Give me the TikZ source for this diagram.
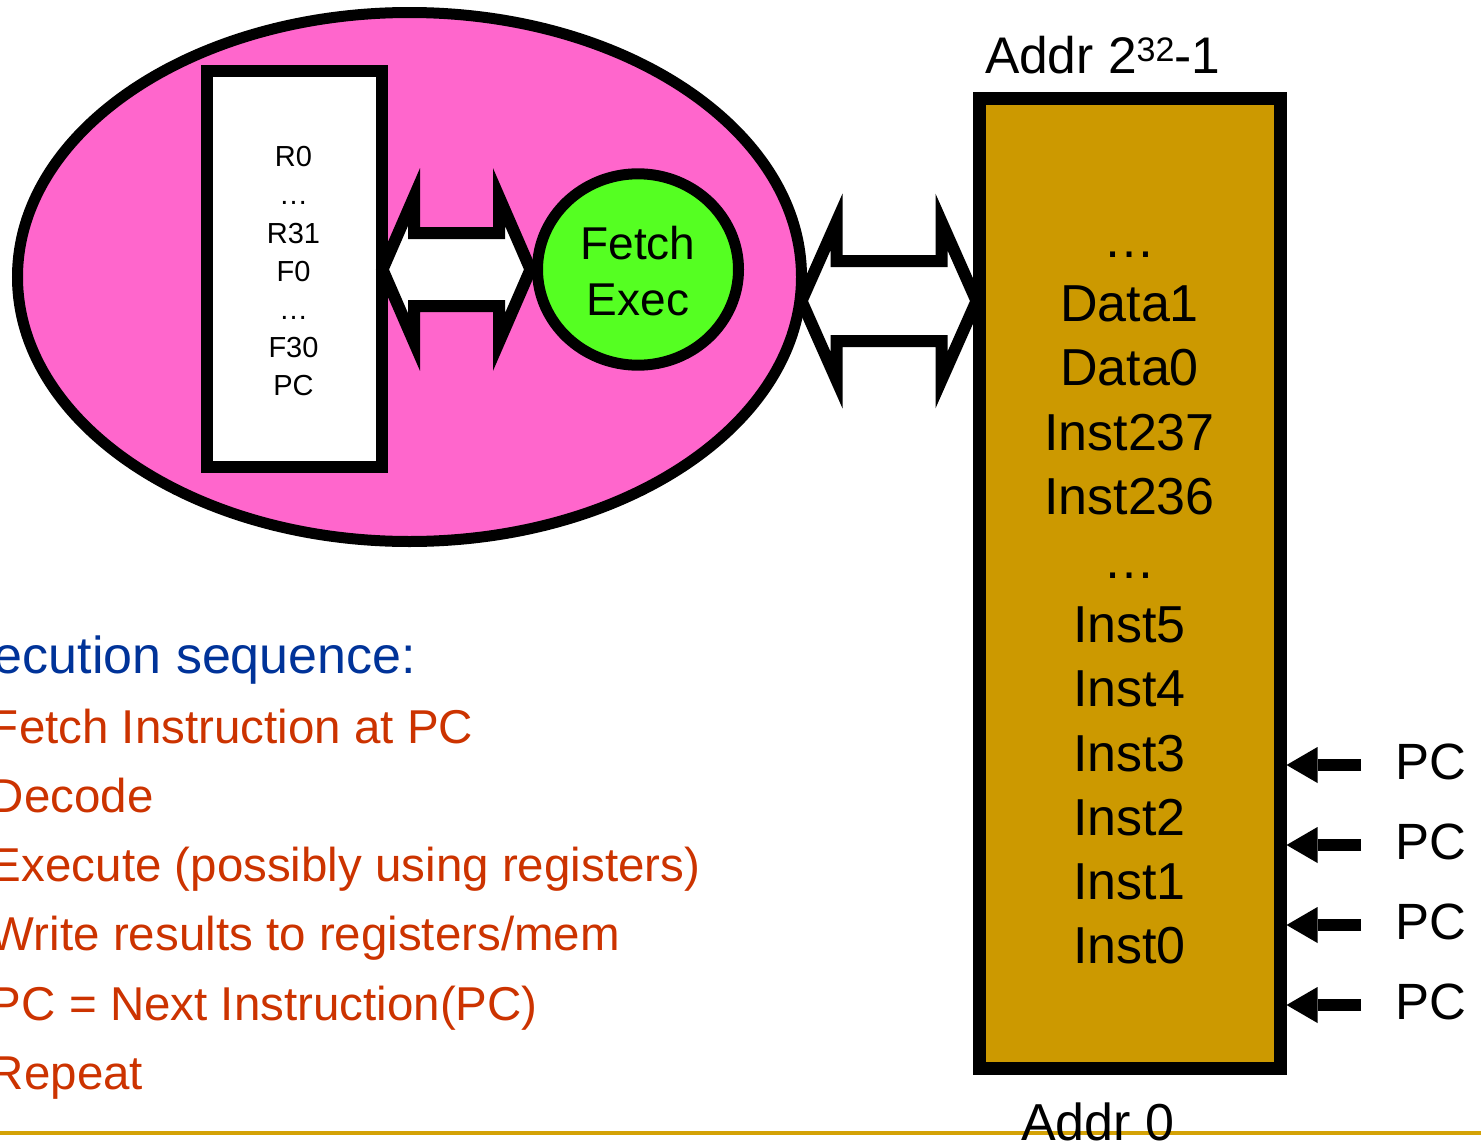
\documentclass[tikz,border=0pt]{standalone}
\usepackage{fontspec}
\setmainfont{Liberation Sans}
\usetikzlibrary{calc,arrows.meta,shapes.geometric}

\definecolor{cpupink}{RGB}{255,102,204}
\definecolor{alugreen}{RGB}{85,255,34}
\definecolor{memgold}{RGB}{204,153,0}
\definecolor{rulegold}{RGB}{212,162,6}
\definecolor{headblue}{RGB}{0,51,153}
\definecolor{itemred}{RGB}{204,51,0}

% hollow double-headed block arrow between two tip points
% #1 left tip, #2 right tip, #3 head length, #4 head half-height, #5 shaft half-height
\newcommand\busshape[5]{%
  \draw[busarrow] (#1) -- ($(#1)+(#3,-#4)$) -- ($(#1)+(#3,-#5)$)
    -- ($(#2)+(-#3,-#5)$) -- ($(#2)+(-#3,-#4)$) -- (#2)
    -- ($(#2)+(-#3,#4)$) -- ($(#2)+(-#3,#5)$)
    -- ($(#1)+(#3,#5)$) -- ($(#1)+(#3,#4)$) -- cycle;}

\begin{document}
\begin{tikzpicture}[x=1pt,y=-1pt,
  every node/.style={inner sep=0pt, outer sep=0pt},
  regtext/.style={anchor=base, font=\fontsize{29}{35}\selectfont},
  memtext/.style={anchor=base, font=\fontsize{52}{62}\selectfont},
  pclabel/.style={anchor=base west, font=\fontsize{51}{61}\selectfont},
  seqitem/.style={anchor=base west, text=itemred, font=\fontsize{47.5}{57}\selectfont},
  busarrow/.style={draw=black, fill=white, line width=12pt, line join=miter, miter limit=10},
  pcarrow/.style={line width=12pt, -{Triangle[length=31pt,width=36pt,line width=0pt]}},
]
\useasboundingbox (0,0) rectangle (1481,1143);
\clip (0,0) rectangle (1481,1143);

% processor
\node[draw, ellipse, line width=11pt, fill=cpupink,
      minimum width=784pt, minimum height=529pt] (proc) at (409.5,277) {};

% register file
\node[draw, line width=12pt, fill=white,
      minimum width=175.5pt, minimum height=396pt] (regs) at (294.25,269) {};
\foreach \t [count=\k from 0] in {R0,…,R31,F0,…,F30,PC}
  \node[regtext] (reg\k) at (293.5,{166.7+38.2*\k}) {\t};

% fetch / execute unit
\node[draw, ellipse, line width=11pt, fill=alugreen,
      minimum width=201pt, minimum height=191.4pt] (alu) at (638,269.5) {};
\node[anchor=base, font=\fontsize{46}{56}\selectfont] (fetchlbl) at (638,259) {Fetch};
\node[anchor=base, font=\fontsize{46}{56}\selectfont] (execlbl) at (638,315) {Exec};

% memory
\node[draw, line width=13pt, fill=memgold,
      minimum width=301pt, minimum height=970pt] (mem) at (1129.5,583) {};
\foreach \t [count=\k from 0] in {…,Data1,Data0,Inst237,Inst236,…,Inst5,Inst4,Inst3,Inst2,Inst1,Inst0}
  \node[memtext] (cell\k) at (1129.5,{257.5+64.2*\k}) {\t};

\node[anchor=base west, font=\fontsize{51.5}{61}\selectfont] (addrtop) at (985,73)
  {Addr 2\raisebox{12pt}{\fontsize{34}{40}\selectfont 32}-1};

% register file <-> fetch/exec
\coordinate (busA1) at ($(regs.east)+(0.5,0.5)$);
\coordinate (busA2) at ($(alu.west)+(-7,0)$);
\busshape{busA1}{busA2}{31.5}{72.5}{36.5}

% processor <-> memory
\coordinate (busline) at (0,301);
\coordinate (busB1) at (proc.east |- busline);
\coordinate (busB0) at (mem.west |- busline);
\coordinate (busB2) at ($(busB0)+(-2.5,0)$);
\busshape{busB1}{busB2}{35}{79}{40}

% program counter positions
\foreach \k in {0,...,3} {
  \node[pclabel] (pc\k) at (1395,{779+80*\k}) {PC};
  \coordinate (pcs\k) at ($(pc\k.base west)+(-34,-14)$);
  \coordinate (pce\k) at (pcs\k -| mem.east);
  \draw[pcarrow] (pcs\k) -- ($(pce\k)+(6.5,0)$);
}

% execution sequence
\node[anchor=base west, text=headblue, font=\fontsize{52}{62}\selectfont] (seq) at (-6,673) {ecution sequence:};
\foreach \t [count=\k from 0] in {Fetch Instruction at PC,Decode,Execute (possibly using registers),{Write results to registers/mem},PC = Next Instruction(PC),Repeat}
  \node[seqitem] (seqstep\k) at (-10,{743+69.3*\k}) {\t};

% footer rule
\draw[rulegold, line width=4pt] (0,1133) -- (1481,1133);
\node[anchor=base west, font=\fontsize{52}{62}\selectfont] (addrbot) at (1021,1140) {Addr 0};
\end{tikzpicture}
\end{document}
